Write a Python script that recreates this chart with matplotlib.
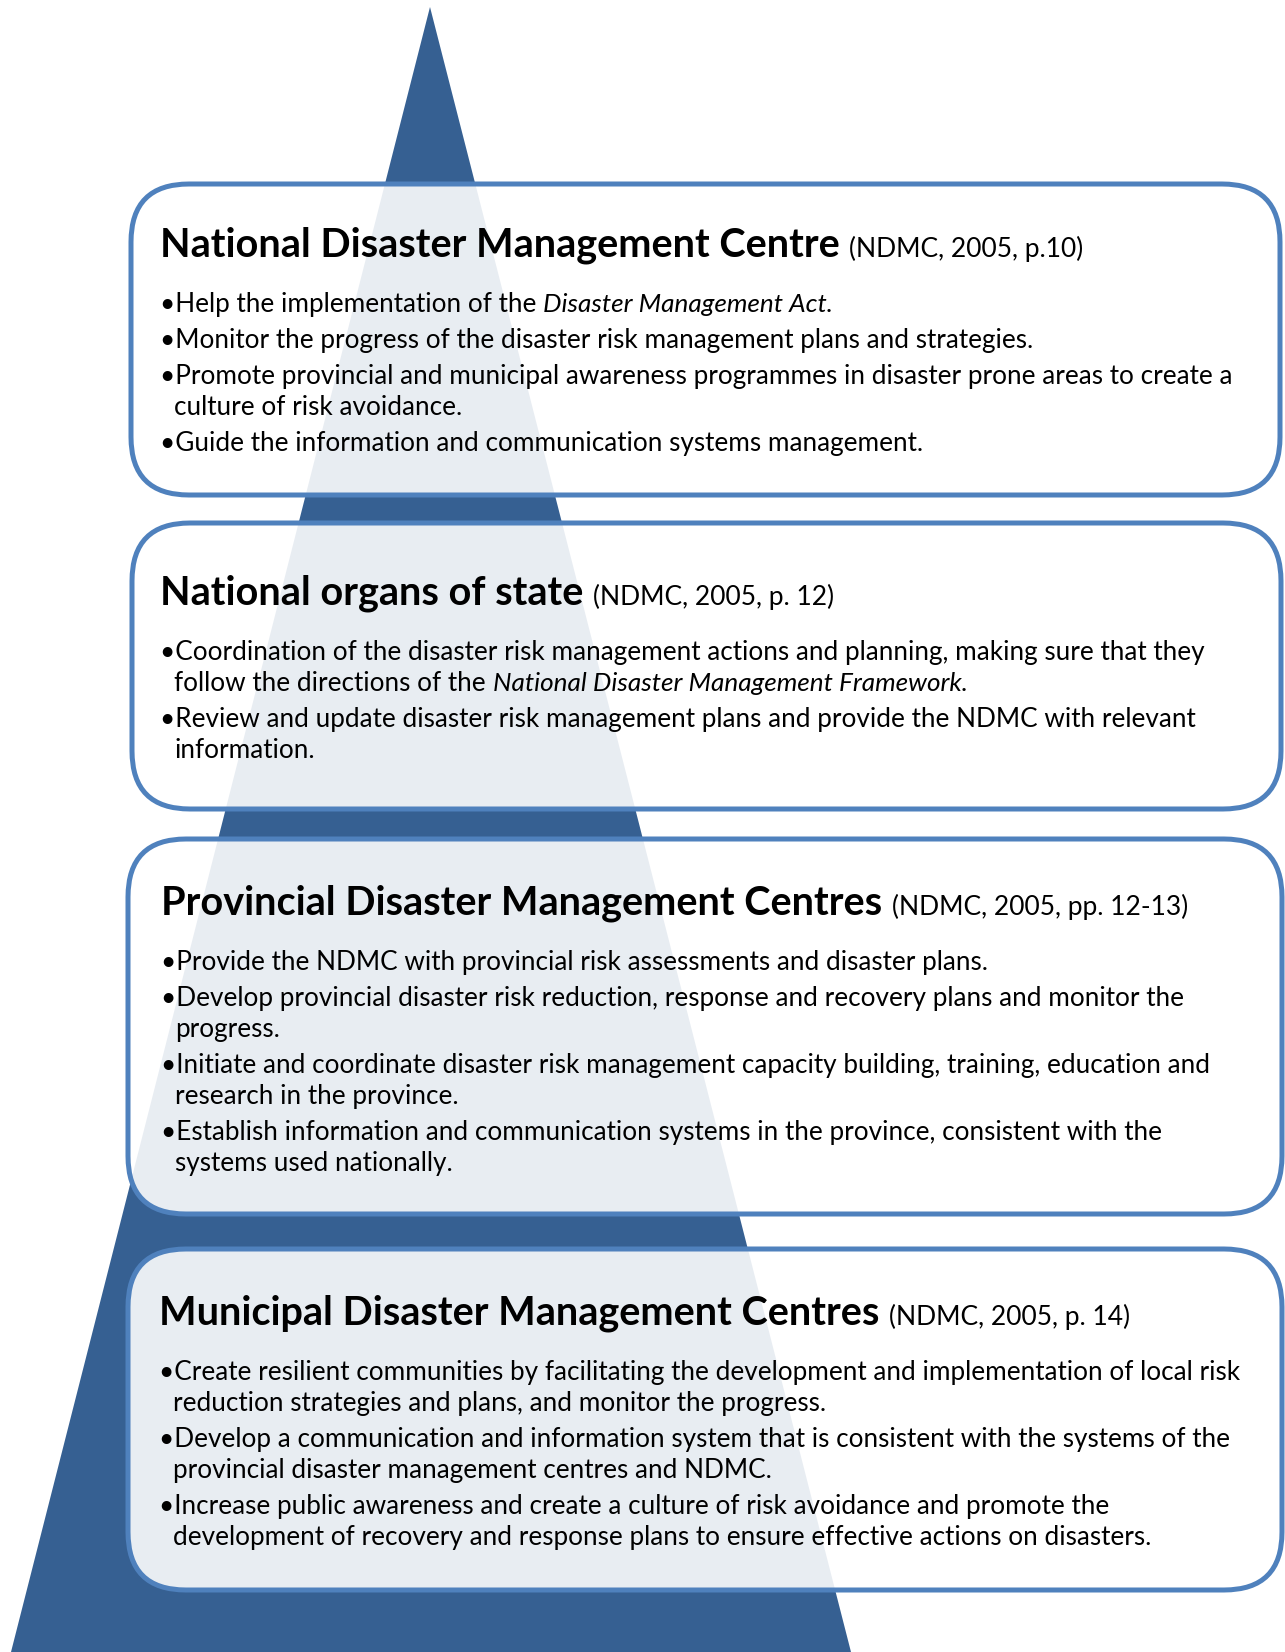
import matplotlib.pyplot as plt
from matplotlib.patches import Polygon, FancyBboxPatch

plt.rcParams['font.family'] = ['Lato', 'DejaVu Sans']

# Text content of the four levels (top to bottom); *...* marks italic
titles = ["National Disaster Management Centre",
          "National organs of state",
          "Provincial Disaster Management Centres",
          "Municipal Disaster Management Centres"]
refs = ["(NDMC, 2005, p.10)",
        "(NDMC, 2005, p. 12)",
        "(NDMC, 2005, pp. 12-13)",
        "(NDMC, 2005, p. 14)"]
bullets_ndmc = [
    ["Help the implementation of the *Disaster Management Act.*"],
    ["Monitor the progress of the disaster risk management plans and strategies."],
    ["Promote provincial and municipal awareness programmes in disaster prone areas to create a",
     "culture of risk avoidance."],
    ["Guide the information and communication systems management."],
]
bullets_organs = [
    ["Coordination of the disaster risk management actions and planning, making sure that they",
     "follow the directions of the *National Disaster Management Framework.*"],
    ["Review and update disaster risk management plans and provide the NDMC with relevant",
     "information."],
]
bullets_provincial = [
    ["Provide the NDMC with provincial risk assessments and disaster plans."],
    ["Develop provincial disaster risk reduction, response and recovery plans and monitor the",
     "progress."],
    ["Initiate and coordinate disaster risk management capacity building, training, education and",
     "research in the province."],
    ["Establish information and communication systems in the province, consistent with the",
     "systems used nationally."],
]
bullets_municipal = [
    ["Create resilient communities by facilitating the development and implementation of local risk",
     "reduction strategies and plans, and monitor the progress."],
    ["Develop a communication and information system that is consistent with the systems of the",
     "provincial disaster management centres and NDMC."],
    ["Increase public awareness and create a culture of risk avoidance and promote the",
     "development of recovery and response plans to ensure effective actions on disasters."],
]
all_bullets = [bullets_ndmc, bullets_organs, bullets_provincial, bullets_municipal]

# layout (pixels, y downwards)
W, H = 1285, 1652
tri_color = '#366092'
edge_color = '#4F81BD'
triangle = [(430, 7), (11, 1652), (851, 1652)]
box_left = [131, 132, 128, 128]
box_right = [1280, 1281, 1282, 1282]
box_top = [184, 523, 839, 1249]
box_bottom = [495, 809, 1214, 1590]
title_off = [73, 82, 76, 76]
text_x = [160, 160, 161, 159]
title_size = 28.5
ref_size = 19
body_size = 18.8
first_gap = 55
wrap_step = 31
bullet_step = 36

fig = plt.figure(figsize=(W / 100, H / 100), dpi=100)
ax = fig.add_axes([0, 0, 1, 1])
ax.set_xlim(0, W)
ax.set_ylim(H, 0)
ax.axis('off')

ax.add_patch(Polygon(triangle, closed=True, facecolor=tri_color, edgecolor='none', zorder=1))

renderer = fig.canvas.get_renderer()


def text_width(s, **kw):
    # width including trailing spaces: measure with a sentinel glyph
    t1 = ax.text(0, 0, s + 'l', **kw)
    t2 = ax.text(0, 0, 'l', **kw)
    w = t1.get_window_extent(renderer).width - t2.get_window_extent(renderer).width
    t1.remove()
    t2.remove()
    return w


def draw_line(x, y, line, size):
    # split into regular / italic runs
    parts = line.split('*')
    for k, part in enumerate(parts):
        if not part:
            continue
        style = 'italic' if k % 2 == 1 else 'normal'
        ax.text(x, y, part, fontsize=size, style=style, va='baseline', ha='left',
                color='black', zorder=3)
        x += text_width(part, fontsize=size, style=style)


bullet_w = text_width('\u2022', fontsize=body_size) - 1

for i in range(len(titles)):
    box = FancyBboxPatch((box_left[i], box_top[i]),
                         box_right[i] - box_left[i], box_bottom[i] - box_top[i],
                         boxstyle='round,pad=0,rounding_size=58',
                         facecolor=(1, 1, 1, 0.89), edgecolor=edge_color,
                         linewidth=3.6, zorder=2)
    ax.add_patch(box)

    x0 = text_x[i]
    y = box_top[i] + title_off[i]
    ax.text(x0, y, titles[i], fontsize=title_size, fontweight='bold',
            va='baseline', ha='left', color='black', zorder=3)
    tw = text_width(titles[i] + ' ', fontsize=title_size, fontweight='bold')
    ax.text(x0 + tw, y, refs[i], fontsize=ref_size, va='baseline', ha='left',
            color='black', zorder=3)

    y += first_gap
    for b, bullet in enumerate(all_bullets[i]):
        if b > 0:
            y += bullet_step
        for j, line in enumerate(bullet):
            if j == 0:
                draw_line(x0, y, '\u2022' + line, body_size)
            else:
                y += wrap_step
                draw_line(x0 + bullet_w, y, line, body_size)

fig.savefig('out.png', dpi=100)
